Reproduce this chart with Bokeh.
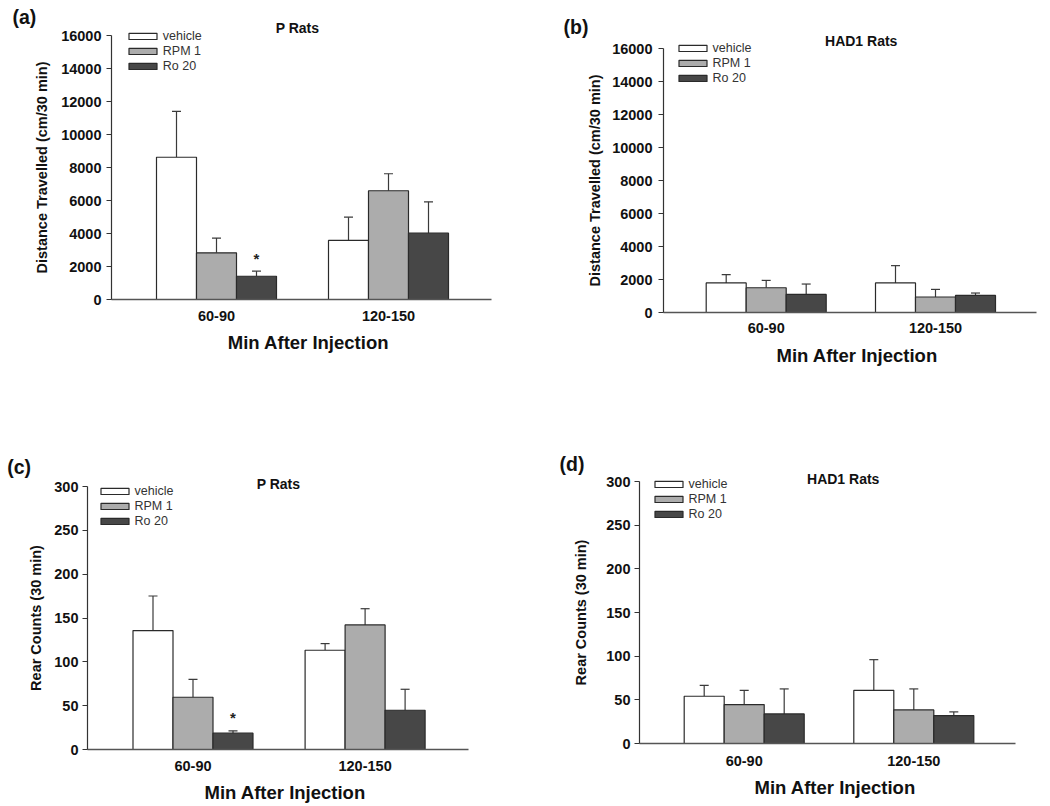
from bokeh.plotting import figure
from bokeh.models import (Range1d, FixedTicker, Label, Legend, LegendItem,
                          Whisker, TeeHead, ColumnDataSource)
from bokeh.transform import dodge
from bokeh.layouts import row, column
from bokeh.core.properties import value
from bokeh.embed import file_html
from bokeh.resources import INLINE

# ---------------- data ----------------
categories = ["60-90", "120-150"]
treatments = ["vehicle", "RPM 1", "Ro 20"]

# (a) P rats - distance travelled (mean, SEM)
a_vehicle = [8620, 3580]
a_vehicle_sem = [2780, 1410]
a_rpm = [2830, 6590]
a_rpm_sem = [890, 1030]
a_ro = [1410, 4020]
a_ro_sem = [310, 1900]
a_sig_ro = [True, False]

# (b) HAD1 rats - distance travelled
b_vehicle = [1790, 1790]
b_vehicle_sem = [500, 1050]
b_rpm = [1500, 940]
b_rpm_sem = [445, 460]
b_ro = [1095, 1035]
b_ro_sem = [630, 145]
b_sig_ro = [False, False]

# (c) P rats - rear counts
c_vehicle = [135.6, 113.2]
c_vehicle_sem = [39.5, 7.6]
c_rpm = [59.6, 142.1]
c_rpm_sem = [20.5, 18.5]
c_ro = [18.6, 44.8]
c_ro_sem = [2.7, 23.9]
c_sig_ro = [True, False]

# (d) HAD1 rats - rear counts
d_vehicle = [54.1, 60.9]
d_vehicle_sem = [12.5, 35.1]
d_rpm = [44.6, 38.5]
d_rpm_sem = [16.3, 24.0]
d_ro = [33.9, 32.0]
d_ro_sem = [28.6, 4.2]
d_sig_ro = [False, False]

dist_ticks = [0, 2000, 4000, 6000, 8000, 10000, 12000, 14000, 16000]
rear_ticks = [0, 50, 100, 150, 200, 250, 300]

colors = ["#ffffff", "#acacac", "#474747"]
FONT = "Liberation Sans"
TXT = "#111111"


def make_panel(tag, title, ylabel, yticks, series, sig, g):
    x0, y0, w, h = g["box"]
    axl, axr, zero_y, top_y = g["axes"]
    c1, c2 = g["centers"]
    ux = c2 - c1                      # pixels per group unit
    uy = (zero_y - top_y) / yticks[-1]  # pixels per data unit
    xs_start = 1 - (c1 - x0) / ux
    ys_start = -(y0 + h - zero_y) / uy
    bar_w = 40 / ux
    offs = [-bar_w, 0.0, bar_w]

    p = figure(width=w, height=h, output_backend="svg", toolbar_location=None,
               x_range=Range1d(xs_start, xs_start + w / ux),
               y_range=Range1d(ys_start, ys_start + h / uy),
               min_border=0, min_border_left=0, min_border_right=0,
               min_border_top=0, min_border_bottom=0)
    p.outline_line_color = None
    p.xgrid.visible = False
    p.ygrid.visible = False
    p.background_fill_color = "white"
    p.border_fill_color = "white"

    def sx(X):
        return X - x0

    def sy(Y):
        return y0 + h - Y

    xs = list(range(1, len(categories) + 1))
    renderers = []
    for i, (means, sems) in enumerate(series):
        src = ColumnDataSource(dict(
            x=xs, mean=means, top=[m + s for m, s in zip(means, sems)]))
        wh = Whisker(base=dodge("x", offs[i]), lower="mean", upper="top",
                     source=src, dimension="height", line_color="#3a3a3a",
                     line_width=1.2, lower_head=None,
                     upper_head=TeeHead(size=9, line_color="#3a3a3a",
                                        line_width=1.2))
        p.add_layout(wh)
        r = p.vbar(x=dodge("x", offs[i]), top="mean", bottom=0, width=bar_w,
                   source=src, fill_color=colors[i], line_color="#2a2a2a",
                   line_width=1.2)
        renderers.append(r)
        if i == 2:
            stx = [x for x, s in zip(xs, sig) if s]
            sty = [m + e for m, e, s in zip(means, sems, sig) if s]
            if stx:
                ssrc = ColumnDataSource(dict(x=stx, y=sty, t=["*"] * len(stx)))
                p.text(x=dodge("x", offs[i]), y="y", text="t", source=ssrc,
                       text_align="center", text_baseline="middle",
                       y_offset=-13, text_font=value(FONT),
                       text_font_style="bold", text_font_size="15px",
                       text_color="#222222")

    # legend
    lx, ly = g["legend"]   # left edge of boxes, centre of first row (page px)
    gw, gh, lh = 35, 8, 15
    legend = Legend(items=[LegendItem(label=t, renderers=[r])
                           for t, r in zip(treatments, renderers)],
                    location=(sx(lx) - 0.1 * gw, sy(ly - lh / 2 + 3 * lh)),
                    glyph_width=gw, glyph_height=gh,
                    label_height=lh, spacing=0, padding=0, margin=0,
                    label_standoff=3, border_line_color=None,
                    background_fill_alpha=0, label_text_font=FONT,
                    label_text_font_size="12.5px", label_text_color="#333333")
    p.add_layout(legend)

    # x axis (at y = 0)
    xa = p.xaxis[0]
    xa.fixed_location = 0
    xa.bounds = (1 + (axl - c1) / ux, 1 + (axr - c1) / ux)
    xa.ticker = FixedTicker(ticks=xs)
    xa.major_label_overrides = {x: c for x, c in zip(xs, categories)}
    xa.major_tick_out = 0
    xa.major_tick_in = 0
    xa.minor_tick_out = 0
    xa.minor_tick_in = 0
    xa.axis_line_color = "#555555"
    xa.axis_line_width = 1.3
    xa.major_label_standoff = g["xstand"]
    xa.major_label_text_font = FONT
    xa.major_label_text_font_style = "bold"
    xa.major_label_text_font_size = "14.5px"
    xa.major_label_text_color = TXT

    # y axis (at left end of x axis)
    ya = p.yaxis[0]
    ya.fixed_location = 1 + (axl - c1) / ux
    ya.bounds = (yticks[0], yticks[-1])
    ya.ticker = FixedTicker(ticks=yticks)
    ya.major_tick_out = 5
    ya.major_tick_in = 0
    ya.minor_tick_out = 0
    ya.minor_tick_in = 0
    ya.axis_line_color = "#333333"
    ya.axis_line_width = 1.2
    ya.major_tick_line_color = "#333333"
    ya.major_label_standoff = g["ystand"][0]
    ya.major_label_text_font = FONT
    ya.major_label_text_font_style = "bold"
    ya.major_label_text_font_size = "14.5px"
    ya.major_label_text_color = TXT
    ya.axis_label = ylabel
    ya.axis_label_standoff = g["ystand"][1]
    ya.axis_label_text_font = FONT
    ya.axis_label_text_font_style = "bold"
    ya.axis_label_text_font_size = "14.5px"
    ya.axis_label_text_color = TXT

    # texts
    tx, ty = g["tag"]
    p.add_layout(Label(x=sx(tx), y=sy(ty), x_units="screen", y_units="screen",
                       text=tag, text_align="left", text_baseline="middle",
                       text_font=FONT, text_font_style="bold",
                       text_font_size="19.5px", text_color=TXT))
    tx, ty = g["title"]
    p.add_layout(Label(x=sx(tx), y=sy(ty), x_units="screen", y_units="screen",
                       text=title, text_align="center", text_baseline="middle",
                       text_font=FONT, text_font_style="bold",
                       text_font_size="14px", text_color=TXT))
    tx, ty = g["xtitle"]
    p.add_layout(Label(x=sx(tx), y=sy(ty), x_units="screen", y_units="screen",
                       text="Min After Injection", text_align="center",
                       text_baseline="middle", text_font=FONT,
                       text_font_style="bold", text_font_size="18.5px",
                       text_color=TXT))
    return p


geo_a = dict(box=(0, 0, 520, 400), axes=(111, 491, 299, 35), centers=(216, 388),
             legend=(128.3, 36.3), tag=(12, 16), title=(297, 27),
             xtitle=(308, 342), xstand=11, ystand=(5, 8))
geo_b = dict(box=(520, 0, 528, 400), axes=(663, 1036, 312, 48),
             centers=(765.7, 935), legend=(678, 48), tag=(563, 26.7),
             title=(860.7, 40), xtitle=(856.7, 355), xstand=10, ystand=(6, 6))
geo_c = dict(box=(0, 400, 520, 406), axes=(87, 468, 749, 486),
             centers=(192.5, 364.6), legend=(100, 491), tag=(6.7, 466.7),
             title=(278, 483.3), xtitle=(284.7, 791.7), xstand=11, ystand=(4, 7))
geo_d = dict(box=(520, 400, 528, 406), axes=(639, 1015, 743, 481),
             centers=(743.7, 913.3), legend=(654, 484), tag=(559, 463),
             title=(842.7, 478.7), xtitle=(834.7, 786.7), xstand=12,
             ystand=(4, 14))

pa = make_panel("(a)", "P Rats", "Distance Travelled (cm/30 min)", dist_ticks,
                [(a_vehicle, a_vehicle_sem), (a_rpm, a_rpm_sem), (a_ro, a_ro_sem)],
                a_sig_ro, geo_a)
pb = make_panel("(b)", "HAD1 Rats", "Distance Travelled (cm/30 min)", dist_ticks,
                [(b_vehicle, b_vehicle_sem), (b_rpm, b_rpm_sem), (b_ro, b_ro_sem)],
                b_sig_ro, geo_b)
pc = make_panel("(c)", "P Rats", "Rear Counts (30 min)", rear_ticks,
                [(c_vehicle, c_vehicle_sem), (c_rpm, c_rpm_sem), (c_ro, c_ro_sem)],
                c_sig_ro, geo_c)
pd_ = make_panel("(d)", "HAD1 Rats", "Rear Counts (30 min)", rear_ticks,
                 [(d_vehicle, d_vehicle_sem), (d_rpm, d_rpm_sem), (d_ro, d_ro_sem)],
                 d_sig_ro, geo_d)

layout = column(row(pa, pb), row(pc, pd_))
open("out.html", "w").write(file_html(layout, INLINE))
